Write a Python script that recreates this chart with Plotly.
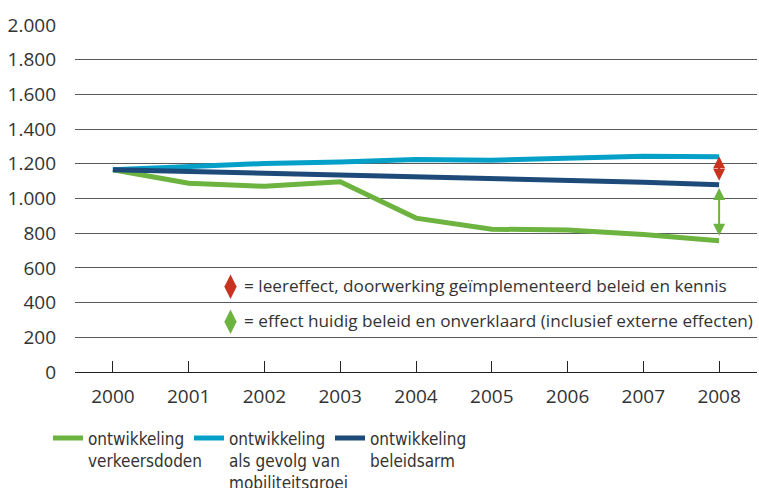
import plotly.graph_objects as go

years = ["2000", "2001", "2002", "2003", "2004", "2005", "2006", "2007", "2008"]
verkeersdoden = [1166, 1088, 1070, 1096, 887, 823, 819, 792, 756]
mobiliteitsgroei = [1166, 1186, 1202, 1211, 1225, 1221, 1229, 1243, 1240]
beleidsarm = [1166, 1156, 1146, 1137, 1123, 1114, 1104, 1094, 1079]
y_ticks = [0, 200, 400, 600, 800, 1000, 1200, 1400, 1600, 1800, 2000]
y_labels = ["0", "200", "400", "600", "800", "1.000", "1.200", "1.400", "1.600", "1.800", "2.000"]

GREEN = "#6db33f"
CYAN = "#05a0c8"
NAVY = "#1e4a7a"
RED = "#c8321e"
TXT = "#333333"
FONT = "Open Sans"
NARROW = "Liberation Sans Narrow, DejaVu Sans Condensed, sans-serif"

L, R, T, B = 75, 2, 25, 116
W, H = 759, 488
PW, PH = W - L - R, H - T - B

def px(xv):
    return (xv - L) / PW

def py(yv):
    return (H - B - yv) / PH

fig = go.Figure()
series = [
    ("ontwikkeling<br>verkeersdoden", verkeersdoden, GREEN),
    ("ontwikkeling<br>als gevolg van<br>mobiliteitsgroei", mobiliteitsgroei, CYAN),
    ("ontwikkeling<br>beleidsarm", beleidsarm, NAVY),
]
for name, vals, col in series:
    fig.add_trace(go.Scatter(x=years, y=vals, mode="lines", name=name,
                             line=dict(color=col, width=5)))

# double arrows at 2008 (between the line edges)
last = len(years) - 1
arrow_style = dict(xref="x", yref="y", axref="x", ayref="y", text="", showarrow=True,
                   arrowhead=2, startarrowhead=2, arrowside="end+start", arrowsize=1.2,
                   startarrowsize=1.2, arrowwidth=2, standoff=0, startstandoff=0)
fig.add_annotation(x=last, y=mobiliteitsgroei[last] + 3, ax=last, ay=beleidsarm[last] + 14,
                   arrowcolor=RED, **arrow_style)
fig.add_annotation(x=last, y=beleidsarm[last] - 18, ax=last, ay=verkeersdoden[last] + 20,
                   arrowcolor=GREEN, **arrow_style)

# key
key = [
    (299, 285, RED, "= leereffect, doorwerking geïmplementeerd beleid en kennis"),
    (334, 320, GREEN, "= effect huidig beleid en onverklaard (inclusief externe effecten)"),
]
for tip, ty, col, txt in key:
    fig.add_annotation(x=px(230.5), y=py(tip), xref="paper", yref="paper", ax=0, ay=-26, text="",
                       showarrow=True, arrowhead=2, startarrowhead=2, arrowside="end+start",
                       arrowsize=1.25, startarrowsize=1.25, arrowwidth=2, arrowcolor=col,
                       standoff=0, startstandoff=0)
    fig.add_annotation(x=px(242), y=py(ty), xref="paper", yref="paper", text=txt,
                       showarrow=False, xanchor="left", yanchor="middle",
                       font=dict(family=FONT, size=17.2, color=TXT))

fig.update_layout(
    width=W, height=H,
    margin=dict(l=L, r=R, t=T, b=B, autoexpand=False),
    paper_bgcolor="white", plot_bgcolor="white",
    showlegend=True,
    legend=dict(orientation="h", x=px(48), y=py(420.5), xanchor="left", yanchor="top",
                entrywidth=96, entrywidthmode="pixels",
                font=dict(family=NARROW, size=17, color=TXT), itemwidth=30,
                tracegroupgap=0, valign="top"),
    font=dict(family=FONT, size=16, color=TXT),
)
fig.update_xaxes(type="category", range=[-0.5, 8.5], showgrid=False,
                 ticks="inside", ticklen=11, tickcolor="#222", tickwidth=1,
                 showline=False, ticklabelstandoff=11, automargin=False,
                 tickfont=dict(family=FONT, size=19, color=TXT), zeroline=False, fixedrange=True)
fig.update_yaxes(range=[0, 2000], tickvals=y_ticks, ticktext=y_labels, showgrid=True,
                 gridcolor="#5a5a5a", gridwidth=1, zeroline=True, zerolinecolor="#222",
                 zerolinewidth=1, showline=False, ticklabelstandoff=18, automargin=False,
                 tickfont=dict(family=FONT, size=19, color=TXT))

fig.write_html("out.html", config={"displayModeBar": False},
               post_script="document.body.style.margin='0';document.body.style.overflow='hidden';")
